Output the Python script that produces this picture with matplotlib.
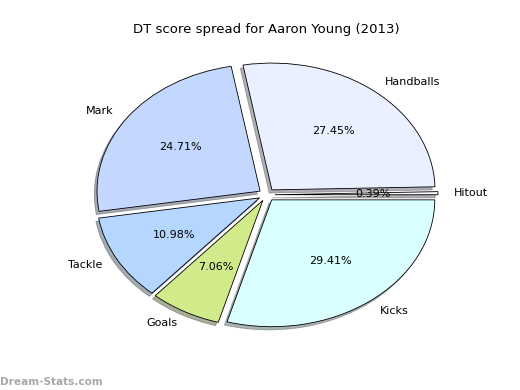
import matplotlib
matplotlib.use("Agg")
import matplotlib.pyplot as plt

# values (percent of DT score)
labels = ["Hitout", "Handballs", "Mark", "Tackle", "Goals", "Kicks"]
values = [0.39, 27.45, 24.71, 10.98, 7.06, 29.41]
colors = ["#f4f8ff", "#eaf0ff", "#c4d8ff", "#b5d6ff", "#d1eb8b", "#d9ffff"]
explode = [0.05] * len(values)

fig = plt.figure(figsize=(5.2, 3.9), dpi=100)
ax = fig.add_axes([0.121, 0.094, 0.784, 0.813])

wedges, texts, autotexts = ax.pie(
    values, labels=labels, colors=colors, explode=explode,
    autopct="%.2f%%", shadow={"ox": -0.012, "oy": -0.018, "shade": 0.6},
    startangle=0,
    wedgeprops=dict(edgecolor="black", linewidth=0.6),
    textprops=dict(fontsize=8))
ax.set_aspect("auto")
ax.set_xlim(-1.25, 1.25)
ax.set_ylim(-1.25, 1.25)

ax.set_title("DT score spread for Aaron Young (2013)", fontsize=9.5, pad=-1)
fig.text(0.0, 0.008, "Dream-Stats.com", fontsize=7.6, color="#a8a8a8",
         fontweight="bold", ha="left", va="bottom")

fig.savefig("out.png", dpi=100)
